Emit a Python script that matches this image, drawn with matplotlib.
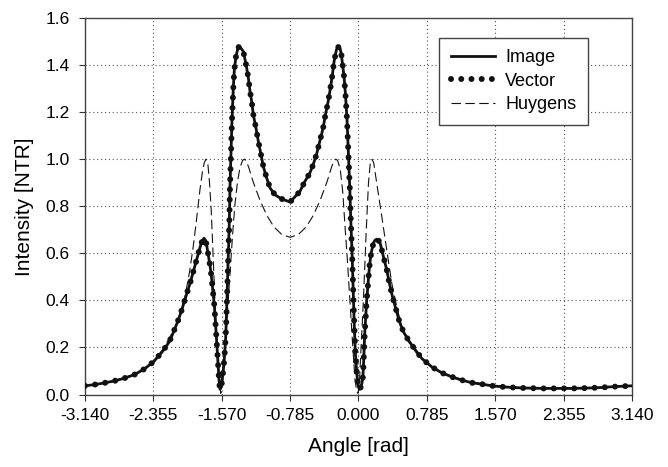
import numpy as np
import matplotlib.pyplot as plt

plt.rcParams['font.family'] = ['Liberation Sans', 'DejaVu Sans']

# Image / Vector curve (the two coincide)
angle = [-3.140, -3.030, -2.920, -2.800, -2.690, -2.570, -2.460, -2.350, -2.250, -2.170,
         -2.120, -2.076, -2.037, -2.003, -1.968, -1.934, -1.903, -1.873, -1.840, -1.812,
         -1.790, -1.773, -1.757, -1.743, -1.724, -1.705, -1.690, -1.678, -1.666, -1.655,
         -1.646, -1.638, -1.631, -1.624, -1.617, -1.610, -1.603, -1.596, -1.588, -1.578,
         -1.568, -1.559, -1.547, -1.536, -1.524, -1.517, -1.505, -1.494, -1.482, -1.475,
         -1.463, -1.452, -1.436, -1.425, -1.406, -1.385, -1.371, -1.350, -1.322, -1.302,
         -1.283, -1.264, -1.245, -1.226, -1.207, -1.180, -1.149, -1.118, -1.092, -1.053,
         -1.014, -0.957, -0.880, -0.785, -0.674, -0.616, -0.559, -0.521, -0.483, -0.444,
         -0.406, -0.379, -0.348, -0.322, -0.299, -0.280, -0.253, -0.226, -0.210, -0.196,
         -0.177, -0.165, -0.150, -0.131, -0.116, -0.100, -0.088, -0.073, -0.062, -0.050,
         -0.035, -0.019, -0.005, 0.010, 0.025, 0.038, 0.050, 0.057, 0.065, 0.072,
         0.084, 0.095, 0.111, 0.126, 0.145, 0.172, 0.190, 0.210, 0.230, 0.249,
         0.287, 0.325, 0.356, 0.391, 0.433, 0.471, 0.517, 0.574, 0.640, 0.728,
         0.843, 0.958, 1.073, 1.188, 1.303, 1.418, 1.533, 1.648, 1.762, 1.877,
         1.992, 2.107, 2.222, 2.337, 2.452, 2.567, 2.682, 2.797, 2.912, 3.027, 3.140]
image = [0.037, 0.042, 0.049, 0.058, 0.069, 0.085, 0.108, 0.140, 0.183, 0.225,
         0.269, 0.309, 0.350, 0.391, 0.432, 0.472, 0.513, 0.554, 0.596, 0.634,
         0.656, 0.664, 0.656, 0.635, 0.593, 0.550, 0.508, 0.465, 0.423, 0.380,
         0.330, 0.288, 0.245, 0.203, 0.160, 0.117, 0.075, 0.040, 0.022, 0.030,
         0.050, 0.080, 0.120, 0.174, 0.245, 0.316, 0.458, 0.600, 0.742, 0.883,
         1.026, 1.167, 1.309, 1.380, 1.437, 1.470, 1.479, 1.472, 1.458, 1.423,
         1.387, 1.345, 1.288, 1.245, 1.189, 1.139, 1.075, 1.018, 0.969, 0.919,
         0.877, 0.848, 0.831, 0.818, 0.862, 0.905, 0.940, 0.976, 1.018, 1.075,
         1.132, 1.189, 1.245, 1.302, 1.359, 1.415, 1.465, 1.479, 1.470, 1.444,
         1.387, 1.350, 1.280, 1.167, 1.026, 0.883, 0.742, 0.600, 0.458, 0.316,
         0.174, 0.089, 0.040, 0.022, 0.030, 0.045, 0.070, 0.117, 0.189, 0.260,
         0.330, 0.401, 0.472, 0.543, 0.600, 0.643, 0.656, 0.660, 0.655, 0.643,
         0.586, 0.529, 0.472, 0.415, 0.359, 0.309, 0.266, 0.231, 0.196, 0.153,
         0.117, 0.092, 0.075, 0.061, 0.050, 0.044, 0.037, 0.033, 0.030, 0.028,
         0.027, 0.026, 0.026, 0.026, 0.026, 0.027, 0.028, 0.030, 0.033, 0.035, 0.037]
vector = list(image)

huy_angle = [-3.140, -3.000, -2.800, -2.600, -2.450, -2.350, -2.250, -2.170, -2.100, -2.040,
             -1.990, -1.940, -1.900, -1.860, -1.820, -1.790, -1.770, -1.750, -1.730, -1.710,
             -1.690, -1.670, -1.650, -1.630, -1.610, -1.595, -1.580, -1.565, -1.545, -1.520,
             -1.495, -1.470, -1.445, -1.420, -1.390, -1.360, -1.330, -1.310, -1.285, -1.260,
             -1.210, -1.130, -1.050, -0.970, -0.880, -0.785, -0.690, -0.600, -0.520, -0.440,
             -0.360, -0.310, -0.285, -0.260, -0.240, -0.210, -0.180, -0.154, -0.127, -0.096,
             -0.065, -0.039, -0.020, -0.005, 0.010, 0.030, 0.057, 0.088, 0.115, 0.135,
             0.155, 0.175, 0.210, 0.268, 0.325, 0.383, 0.440, 0.497, 0.574, 0.670,
             0.785, 0.900, 1.050, 1.250, 1.450, 1.700, 2.000, 2.400, 2.800, 3.140]
huygens = [0.037, 0.043, 0.058, 0.082, 0.110, 0.142, 0.190, 0.240, 0.290, 0.350,
           0.420, 0.520, 0.620, 0.740, 0.870, 0.950, 0.985, 1.000, 0.985, 0.900,
           0.780, 0.600, 0.420, 0.260, 0.120, 0.040, 0.005, 0.040, 0.130, 0.260,
           0.400, 0.540, 0.680, 0.800, 0.900, 0.965, 0.995, 1.000, 0.990, 0.965,
           0.905, 0.825, 0.760, 0.712, 0.680, 0.668, 0.680, 0.712, 0.760, 0.825,
           0.905, 0.965, 0.990, 1.000, 0.995, 0.960, 0.860, 0.713, 0.571, 0.387,
           0.203, 0.061, 0.015, 0.005, 0.040, 0.200, 0.401, 0.685, 0.898, 0.980,
           1.000, 0.985, 0.898, 0.756, 0.614, 0.472, 0.373, 0.288, 0.224, 0.174,
           0.132, 0.105, 0.080, 0.057, 0.043, 0.033, 0.027, 0.026, 0.030, 0.037]

xticks = [-3.140, -2.355, -1.570, -0.785, 0.000, 0.785, 1.570, 2.355, 3.140]
yticks = [0.0, 0.2, 0.4, 0.6, 0.8, 1.0, 1.2, 1.4, 1.6]

fig = plt.figure(figsize=(6.68, 4.67), dpi=100)
ax = fig.add_axes([0.1272, 0.1552, 0.8188, 0.8063])

ax.plot(angle, image, color='#111111', lw=2.0, label='Image', zorder=3)
ax.plot(angle, vector, color='#111111', lw=4.3, linestyle=(0, (0.01, 1.7)),
        dash_capstyle='round', label='Vector', zorder=4)
ax.plot(huy_angle, huygens, color='#111111', lw=0.8, linestyle=(0, (8.5, 4.0)),
        label='Huygens', zorder=2)

ax.set_xlim(-3.14, 3.14)
ax.set_ylim(0, 1.6)
ax.set_xticks(xticks)
ax.set_xticklabels(['%.3f' % v for v in xticks])
ax.set_yticks(yticks)
ax.set_yticklabels(['%.1f' % v for v in yticks])
ax.tick_params(direction='out', length=4, width=0.8, color='#333333', labelsize=12.5)
ax.tick_params(axis='x', pad=6)
ax.tick_params(axis='y', pad=7)
ax.grid(True, linestyle=(0, (1, 2.5)), color='#555555', lw=0.8)
for s in ax.spines.values():
    s.set_color('#444444')
    s.set_linewidth(1.0)

ax.set_xlabel('Angle [rad]', fontsize=15, labelpad=10)
ax.set_ylabel('Intensity [NTR]', fontsize=15, labelpad=8)

leg = ax.legend(loc='upper left', bbox_to_anchor=(0.648, 0.948), borderaxespad=0,
                fontsize=13, handlelength=2.45, fancybox=False, framealpha=1,
                edgecolor='#444444', borderpad=0.65, labelspacing=0.35, handletextpad=0.55)
leg.get_frame().set_linewidth(1.0)

plt.savefig('out.png', dpi=100)
